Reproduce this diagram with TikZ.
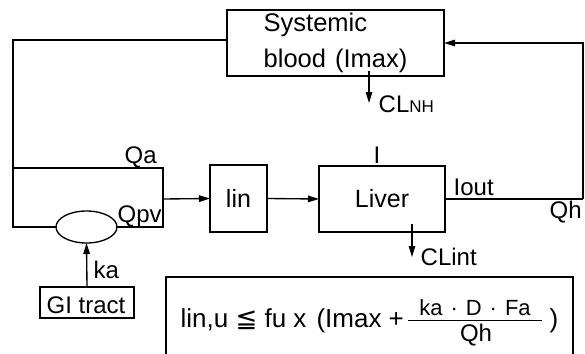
\documentclass[tikz,border=0pt]{standalone}
\usepackage{fontspec}
\setmainfont{Liberation Sans}
\newfontfamily\symfont{DejaVu Sans}
\usetikzlibrary{arrows.meta,shapes.geometric}

\begin{document}
\begin{tikzpicture}[x=1pt,y=-1pt,line width=1.35pt,
  blk/.style={draw,inner sep=0,outer sep=0},
  txt/.style={inner sep=0,anchor=base west},
  fs/.style={font=\fontsize{#1}{#1}\selectfont},
  arr/.style={-{Triangle[length=11pt,width=6.5pt]}}]
\useasboundingbox (0,0) rectangle (585,353);
\clip (0,0) rectangle (585,353);

% compartments
\node[blk,minimum width=217pt,minimum height=66pt] (sys) at (335.5,43) {};
\node[txt,fs=25.5] (sysA) at (263,32) {Systemic};
\node[txt,fs=25.5] (sysB) at (263,67) {blood\hspace{9pt}(Imax)};
\node[blk,minimum width=57pt,minimum height=67pt,fs=25] (lin) at (238.5,198.5) {lin};
\node[blk,minimum width=126pt,minimum height=66pt,fs=25] (liver) at (382,199) {Liver};
\node[blk,ellipse,minimum width=61pt,minimum height=32pt] (mix) at (86.5,227) {};
\node[blk,minimum width=94pt,minimum height=31pt] (gi) at (87,302.5) {};
\node[txt,fs=24] (giT) at (46,313) {GI tract};

% junction points of the arterial / portal loop
\coordinate (tl) at (13,168);
\coordinate (tr) at (163,168);
\coordinate (br) at (163,227);
\coordinate (split) at (163,199);
\coordinate (rr) at (583,199);

% flows
\draw ([yshift=3pt]sys.west) -| (tl) |- (mix.west);
\draw (tl) -- (tr) -- (br) -- (mix.east);
\draw[arr] (split) -- (lin.west);
\draw[arr] (lin.east) -- (liver.west);
\draw (liver.east) -- (rr);
\draw[arr] (rr) |- (sys.east);
\draw[arr] (gi.north) -- (mix.south);

% clearance arrows
\coordinate (nhA) at (369,71);
\coordinate (nhB) at (369,103);
\draw[arr] (nhA) -- (nhB);
\coordinate (intA) at (412,224);
\coordinate (intB) at (412,257);
\draw[arr] (intA) -- (intB);

% labels
\node[txt,fs=24] (clnh) at (378,112) {CL{\fontsize{17}{17}\selectfont NH}};
\node[txt,fs=24] (clint) at (420,265) {CLint};
\node[inner sep=0,anchor=base,fs=24] (iin) at (377,163) {I};
\node[txt,fs=24] (iout) at (453,195) {Iout};
\node[txt,fs=24] (qh) at (549,218) {Qh};
\node[txt,fs=24] (qa) at (124,163) {Qa};
\node[txt,fs=24] (qpv) at (117,222) {Qpv};
\node[txt,fs=24] (ka) at (93,278) {ka};

% inequality for the inlet concentration
\node[blk,minimum width=407pt,minimum height=90pt,anchor=north west] (eq) at (166,277) {};
\node[txt,fs=26] (eqL) at (180,327) {lin,u {\symfont ≦} fu x\hspace{10pt}(Imax +};
\node[inner sep=0,anchor=base,fs=22] (eqN) at (475,315) {ka\hspace{8pt}·\hspace{8pt}D\hspace{8pt}·\hspace{8pt}Fa};
\node[inner sep=0,anchor=base,fs=24] (eqD) at (476,341) {Qh};
\draw[line width=1pt] (408,320) -- (542,320);
\node[txt,fs=26] (eqR) at (549,327) {)};
\end{tikzpicture}
\end{document}
